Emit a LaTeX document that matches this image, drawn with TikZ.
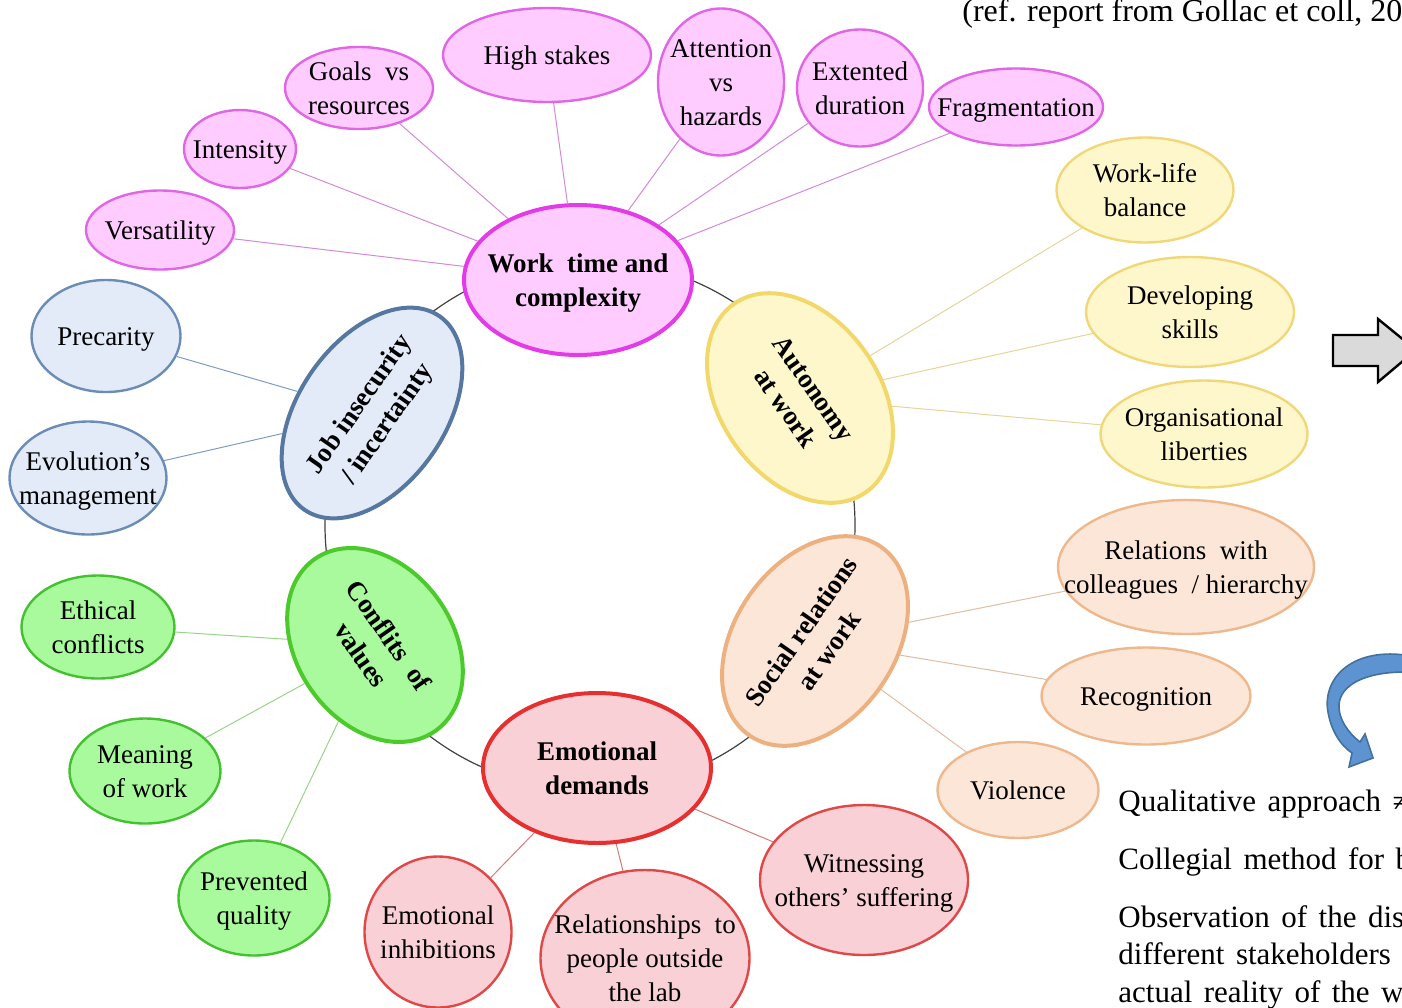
\documentclass[tikz,border=0pt]{standalone}
\usepackage{fontspec}
\setmainfont{Liberation Serif}
\usepackage{tikz}
\usetikzlibrary{shapes.geometric}
\definecolor{wtfill}{HTML}{FFCCFF}
\definecolor{wtline}{HTML}{E33BE8}
\definecolor{wtleaf}{HTML}{E066E6}
\definecolor{wtcon}{HTML}{D48AD8}
\definecolor{jbfill}{HTML}{E2EBF7}
\definecolor{jbline}{HTML}{5577A0}
\definecolor{jbleaf}{HTML}{6C8CB8}
\definecolor{jbcon}{HTML}{7D9CC5}
\definecolor{aufill}{HTML}{FFF7CC}
\definecolor{auline}{HTML}{F2D86A}
\definecolor{auleaf}{HTML}{F0D878}
\definecolor{aucon}{HTML}{E6D49A}
\definecolor{srfill}{HTML}{FCE6D8}
\definecolor{srline}{HTML}{EDB07E}
\definecolor{srleaf}{HTML}{EEB88C}
\definecolor{srcon}{HTML}{E2BCA0}
\definecolor{edfill}{HTML}{F8D0D5}
\definecolor{edline}{HTML}{E63030}
\definecolor{edleaf}{HTML}{E04848}
\definecolor{edcon}{HTML}{D67A7A}
\definecolor{cvfill}{HTML}{A8FA9C}
\definecolor{cvline}{HTML}{4CC92B}
\definecolor{cvleaf}{HTML}{44C030}
\definecolor{cvcon}{HTML}{98D488}
\definecolor{ringgray}{HTML}{404040}
\definecolor{blockgray}{HTML}{DADADA}
\definecolor{curlblue}{HTML}{5E93D2}
\definecolor{curledge}{HTML}{41719C}
\newcommand{\ovaltext}[1]{\smash{\raisebox{-0.35em}{\makebox[0pt]{\begin{tabular}{@{}c@{}}#1\end{tabular}}}}}
\newcommand{\notefont}{\fontsize{15.5}{19}\selectfont\spaceskip=0.37em plus 0.1em\relax}
\tikzset{
    oval/.style={
        ellipse,
        draw,
        inner sep=0pt,
        font=\fontsize{13.5}{17}\selectfont
    },
    hub/.style={oval, line width=2pt, font=\fontsize{13.5}{17}\selectfont\bfseries},
    leaf/.style={oval, line width=1.2pt},
    dims/.style 2 args={minimum width=#1*0.5pt, minimum height=#2*0.5pt},
    wt hub/.style={hub, fill=wtfill, draw=wtline},
    wt leaf/.style={leaf, fill=wtfill, draw=wtleaf},
    jb hub/.style={hub, fill=jbfill, draw=jbline},
    jb leaf/.style={leaf, fill=jbfill, draw=jbleaf},
    au hub/.style={hub, fill=aufill, draw=auline},
    au leaf/.style={leaf, fill=aufill, draw=auleaf},
    sr hub/.style={hub, fill=srfill, draw=srline},
    sr leaf/.style={leaf, fill=srfill, draw=srleaf},
    ed hub/.style={hub, fill=edfill, draw=edline},
    ed leaf/.style={leaf, fill=edfill, draw=edleaf},
    cv hub/.style={hub, fill=cvfill, draw=cvline},
    cv leaf/.style={leaf, fill=cvfill, draw=cvleaf},
    spoke/.style={line width=0.5pt},
    ring/.style={draw=ringgray, line width=0.6pt},
    note/.style={anchor=base west, inner sep=0pt, font=\notefont}
}

\begin{document}
\begin{tikzpicture}[x=0.5pt, y=-0.5pt]
            \useasboundingbox (0,0) rectangle (1402,1007);
            \coordinate (hubring) at (590,525);
            \draw[ring] (hubring) circle[radius=132.5pt];
            \node[wt hub, dims={228}{150}] (work) at (578,280) {\ovaltext{Work\ \ time and\\complexity}};
            \node[au hub, dims={230}{160}, rotate=-55] (auto) at (800,398) {\ovaltext{Autonomy\\at work}};
            \node[sr hub, dims={230}{160}, rotate=55] (social) at (815,641) {\ovaltext{Social relations\\at work}};
            \node[ed hub, dims={228}{150}] (emot) at (597,768) {\ovaltext{Emotional\\demands}};
            \node[cv hub, dims={210}{156}, rotate=-55] (confl) at (375,645) {\ovaltext{Conflits\ \ of\\values}};
            \node[jb hub, dims={236}{146}, rotate=55] (job) at (372,413) {\ovaltext{Job insecurity\\/ incertainty}};

            \node[wt leaf, dims={148}{79}] (vers) at (160,230) {\ovaltext{Versatility}};
            \node[wt leaf, dims={112}{78}] (inten) at (240,149) {\ovaltext{Intensity}};
            \node[wt leaf, dims={148}{82}] (goals) at (359,88) {\ovaltext{Goals\ \ vs\\resources}};
            \node[wt leaf, dims={208}{94}] (stakes) at (547,55) {\ovaltext{High stakes}};
            \node[wt leaf, dims={126}{147}] (atten) at (721,82) {\ovaltext{Attention\\vs\\hazards}};
            \node[wt leaf, dims={126}{117}] (durat) at (860,88) {\ovaltext{Extented\\duration}};
            \node[wt leaf, dims={174}{77}] (fragm) at (1016,107) {\ovaltext{Fragmentation}};

            \node[jb leaf, dims={149}{112}] (prec) at (106,336) {\ovaltext{Precarity}};
            \node[jb leaf, dims={157}{113}] (evol) at (88,478) {\ovaltext{Evolution’s\\management}};

            \node[au leaf, dims={177}{105}] (wlb) at (1145,190) {\ovaltext{Work-life\\balance}};
            \node[au leaf, dims={208}{110}] (skills) at (1190,312) {\ovaltext{Developing\\skills}};
            \node[au leaf, dims={207}{107}] (orgl) at (1204,434) {\ovaltext{Organisational\\liberties}};

            \node[sr leaf, dims={256}{134}] (colleag) at (1186,567) {\ovaltext{Relations\ \ with\\colleagues\ \ / hierarchy}};
            \node[sr leaf, dims={209}{97}] (recog) at (1146,696) {\ovaltext{Recognition}};
            \node[sr leaf, dims={161}{96}] (viol) at (1018,790) {\ovaltext{Violence}};

            \node[ed leaf, dims={208}{150}] (witness) at (864,880) {\ovaltext{Witnessing\\others’ suffering}};
            \node[ed leaf, dims={209}{176}] (outside) at (645,958) {\ovaltext{Relationships\ \ to\\people outside\\the lab}};
            \node[ed leaf, dims={147}{151}] (inhib) at (438,932) {\ovaltext{Emotional\\inhibitions}};

            \node[cv leaf, dims={153}{103}] (ethic) at (98,627) {\ovaltext{Ethical\\conflicts}};
            \node[cv leaf, dims={151}{105}] (meaning) at (145,771) {\ovaltext{Meaning\\of work}};
            \node[cv leaf, dims={151}{115}] (quality) at (254,898) {\ovaltext{Prevented\\quality}};

            \foreach \s in {vers,inten,goals,stakes,atten,durat,fragm}
              \draw[spoke, wtcon] (\s) -- (work);
            \foreach \s in {prec,evol}
              \draw[spoke, jbcon] (\s) -- (job);
            \foreach \s in {wlb,skills,orgl}
              \draw[spoke, aucon] (\s) -- (auto);
            \foreach \s in {colleag,recog,viol}
              \draw[spoke, srcon] (\s) -- (social);
            \foreach \s in {witness,outside,inhib}
              \draw[spoke, edcon] (\s) -- (emot);
            \foreach \s in {ethic,meaning,quality}
              \draw[spoke, cvcon] (\s) -- (confl);

            \node[note, font=\fontsize{16}{19}\selectfont] (ref) at (962,21) {(ref. report from Gollac et coll, 20};
            \draw[fill=blockgray, line width=1.2pt, line join=miter] (1333,335) -- (1378,335) -- (1378,319) -- (1416,350) -- (1378,382) -- (1378,366) -- (1333,366) -- cycle;
            \draw[fill=curlblue, draw=curledge, line width=0.8pt] (1405,655) .. controls (1350,648) and (1322,680) .. (1328,712) .. controls (1331,730) and (1340,745) .. (1352,753) -- (1349,767) -- (1373,758) -- (1365,734) -- (1360,742) .. controls (1348,733) and (1338,718) .. (1339,705) .. controls (1340,685) and (1365,672) .. (1405,672) -- cycle;

            \node[note] (qual) at (1118,811) {Qualitative approach ≠};
            \node[note] (colleg) at (1118,869) {Collegial method for b};
            \node[note] (observ) at (1118,927) {Observation of the disc};
            \node[note] (stake) at (1118,964) {different stakeholders};
            \node[note] (actual) at (1118,1002) {actual reality of the wo};
          \end{tikzpicture}
\end{document}
